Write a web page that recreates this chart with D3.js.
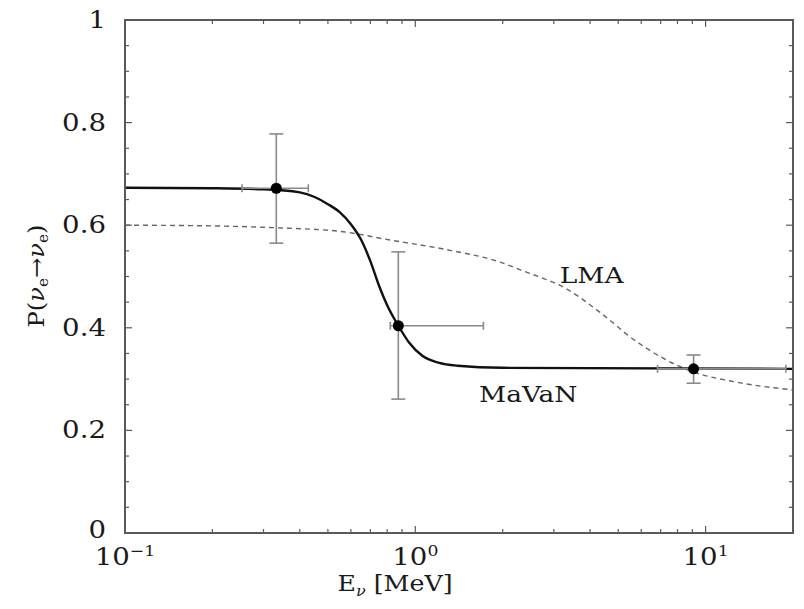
<!DOCTYPE html>
<html><head><meta charset="utf-8">
<script src="https://cdn.jsdelivr.net/npm/d3@7"></script>
<style>body{margin:0;background:#fff}svg{display:block}</style>
</head><body>
<svg id="c" width="804" height="609"></svg>
<script>
// ---- data ----
const mavanE = [0.1, 0.2, 0.3, 0.4, 0.45, 0.5, 0.55, 0.6, 0.65, 0.7, 0.75, 0.8, 0.874, 0.95, 1.06, 1.2, 1.4, 2.0, 20];
const mavanP = [0.673, 0.672, 0.670, 0.664, 0.655, 0.641, 0.625, 0.602, 0.572, 0.530, 0.482, 0.444, 0.404, 0.372, 0.345, 0.332, 0.326, 0.322, 0.32];
const lmaE = [0.1, 0.181, 0.332, 0.55, 0.82, 1.32, 1.96, 2.30, 3.36, 4.33, 5.72, 8.67, 12.8, 20];
const lmaP = [0.600, 0.599, 0.595, 0.588, 0.571, 0.551, 0.528, 0.513, 0.474, 0.43, 0.375, 0.318, 0.294, 0.279];
const ptE = [0.332, 0.874, 9.09];
const ptP = [0.672, 0.404, 0.320];
const ptPlo = [0.565, 0.261, 0.292];
const ptPhi = [0.778, 0.548, 0.347];
const ptElo = [0.253, 0.82, 6.83];
const ptEhi = [0.428, 1.716, 18.9];
const yTicks = [0, 0.2, 0.4, 0.6, 0.8, 1];
const yTickLabels = ["0", "0.2", "0.4", "0.6", "0.8", "1"];
const xTicks = [0.1, 1, 10];
const xTickExp = ["\u22121", "0", "1"];
const curveLabels = [{t: "LMA", E: 4.05, P: 0.487}, {t: "MaVaN", E: 2.45, P: 0.256}];

// ---- layout ----
const L = 125, R = 793, T = 20, B = 533;
const x = d3.scaleLog().domain([0.1, 20]).range([L, R]);
const y = d3.scaleLinear().domain([0, 1]).range([B, T]);
const svg = d3.select("#c");
const font = "'DejaVu Serif',serif";
const axisCol = "#5a5a5a";
const SX = 1.15; // horizontal stretch of text as in reference
const FS = 24;

function txt(px, py, anchor, size) {
  return g.append("text").attr("transform", `translate(${px},${py}) scale(${SX},1)`)
    .attr("text-anchor", anchor).attr("font-family", font).attr("font-size", size)
    .attr("fill", "#1a1a1a");
}

// minor ticks
const xMinor = [];
[0.1, 1, 10].forEach(d => { for (let k = 1; k <= 9; k++) { const v = d * k; if (v >= 0.1 && v <= 20) xMinor.push(v); } });
xMinor.push(20);
const yMinor = d3.range(0, 1.0001, 0.05);

const g = svg.append("g");
const tk = g.append("g").attr("stroke", axisCol).attr("stroke-width", 1.2);
xMinor.forEach(v => {
  const len = xTicks.includes(v) ? 7 : 4;
  tk.append("line").attr("x1", x(v)).attr("x2", x(v)).attr("y1", B).attr("y2", B - len);
  tk.append("line").attr("x1", x(v)).attr("x2", x(v)).attr("y1", T).attr("y2", T + len);
});
yMinor.forEach(v => {
  const major = Math.abs(v * 5 - Math.round(v * 5)) < 1e-6;
  const len = major ? 7 : 4;
  tk.append("line").attr("y1", y(v)).attr("y2", y(v)).attr("x1", L).attr("x2", L + len);
  tk.append("line").attr("y1", y(v)).attr("y2", y(v)).attr("x1", R).attr("x2", R - len);
});

// lines
const line = d3.line().x(d => x(d[0])).y(d => y(d[1])).curve(d3.curveMonotoneX);
g.append("path").datum(lmaE.map((e, i) => [e, lmaP[i]])).attr("d", line)
  .attr("fill", "none").attr("stroke", "#666").attr("stroke-width", 1.4).attr("stroke-dasharray", "5,4");
g.append("path").datum(mavanE.map((e, i) => [e, mavanP[i]])).attr("d", line)
  .attr("fill", "none").attr("stroke", "#111").attr("stroke-width", 2.4);

// error bars
const eb = g.append("g").attr("stroke", "#8a8a8a").attr("stroke-width", 1.6);
ptE.forEach((e, i) => {
  eb.append("line").attr("x1", x(e)).attr("x2", x(e)).attr("y1", y(ptPlo[i])).attr("y2", y(ptPhi[i]));
  eb.append("line").attr("x1", x(e) - 7).attr("x2", x(e) + 7).attr("y1", y(ptPlo[i])).attr("y2", y(ptPlo[i]));
  eb.append("line").attr("x1", x(e) - 7).attr("x2", x(e) + 7).attr("y1", y(ptPhi[i])).attr("y2", y(ptPhi[i]));
  eb.append("line").attr("x1", x(ptElo[i])).attr("x2", x(ptEhi[i])).attr("y1", y(ptP[i])).attr("y2", y(ptP[i]));
  eb.append("line").attr("x1", x(ptElo[i])).attr("x2", x(ptElo[i])).attr("y1", y(ptP[i]) - 4).attr("y2", y(ptP[i]) + 4);
  eb.append("line").attr("x1", x(ptEhi[i])).attr("x2", x(ptEhi[i])).attr("y1", y(ptP[i]) - 4).attr("y2", y(ptP[i]) + 4);
});
g.selectAll("circle.pt").data(ptE).join("circle").attr("class", "pt")
  .attr("cx", d => x(d)).attr("cy", (d, i) => y(ptP[i])).attr("r", 5.5).attr("fill", "#000");

// frame
g.append("rect").attr("x", L).attr("y", T).attr("width", R - L).attr("height", B - T)
  .attr("fill", "none").attr("stroke", axisCol).attr("stroke-width", 2);

// y tick labels
yTicks.forEach((v, i) => txt(106, y(v) + (v === 0 ? 5 : 8), "end", FS).text(yTickLabels[i]));

// x tick labels
xTicks.forEach((v, i) => {
  const t = txt(x(v), 565, "middle", FS);
  t.append("tspan").text("10");
  t.append("tspan").attr("dy", -9).attr("font-size", 15).text(xTickExp[i]);
});

// axis titles
const xt = txt(395, 591, "middle", 22);
xt.append("tspan").text("E");
xt.append("tspan").attr("dy", 5).attr("font-size", 14).attr("font-style", "italic").text("\u03bd");
xt.append("tspan").attr("dy", -5).text(" [MeV]");

const yt = g.append("text").attr("transform", "translate(44,276) rotate(-90) scale(1.1,1)").attr("text-anchor", "middle")
  .attr("font-family", font).attr("font-size", 22).attr("fill", "#1a1a1a");
yt.append("tspan").text("P(");
yt.append("tspan").attr("font-style", "italic").text("\u03bd");
yt.append("tspan").attr("dy", 4).attr("font-size", 14).text("e");
yt.append("tspan").attr("dy", -4).text("\u2192");
yt.append("tspan").attr("font-style", "italic").text("\u03bd");
yt.append("tspan").attr("dy", 4).attr("font-size", 14).text("e");
yt.append("tspan").attr("dy", -4).text(")");

// curve labels
curveLabels.forEach(c => txt(x(c.E), y(c.P), "middle", 23).text(c.t));
</script>
</body></html>
